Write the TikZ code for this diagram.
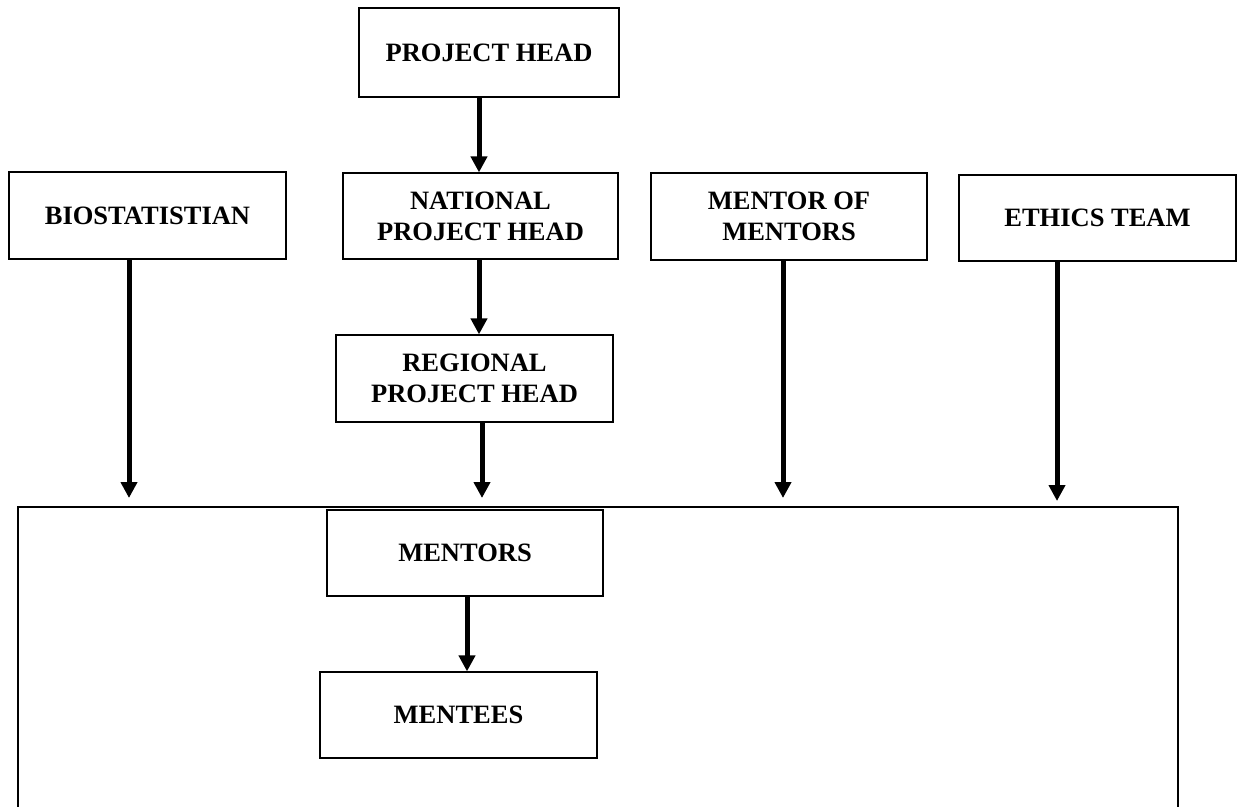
\documentclass[tikz,border=0pt]{standalone}
\usepackage{fontspec}
\setmainfont{Liberation Serif}
\usetikzlibrary{arrows.meta}
\tikzstyle{block} = [rectangle, draw, line width = 1.2pt, minimum width = 277pt, minimum height = 87pt, inner sep = 0pt, align = center, font = \bfseries\fontsize{26.5}{31}\selectfont]
\tikzstyle{line} = [line width = 5pt, -{Triangle[length = 16pt, width = 16pt]}]
\tikzstyle{frame} = [line width = 1.5pt]

\begin{document}
\begin{tikzpicture}[x = 1pt, y = -1pt]
        \useasboundingbox (0,0) rectangle (1244,806);
        \node(PH) [block, minimum width = 260pt, minimum height = 89pt] at (489,52.5) {PROJECT HEAD};
        \node(NPH) [block, minimum width = 275pt, minimum height = 86pt] at (480.5,216) {NATIONAL\\PROJECT HEAD};
        \node(BIO) [block] at (147.5,215.5) {BIOSTATISTIAN};
        \node(MOM) [block, minimum width = 276pt] at (789,216.5) {MENTOR OF\\MENTORS};
        \node(ETH) [block, minimum height = 86pt] at (1097.5,218) {ETHICS TEAM};
        \node(RPH) [block] at (474.5,378.5) {REGIONAL\\PROJECT HEAD};
        \node(MTR) [block, minimum width = 276pt, minimum height = 86pt] at (465,553) {MENTORS};
        \node(MTE) [block, minimum height = 86pt] at (458.5,715) {MENTEES};
        % outer frame, its bottom edge runs off the page
        \coordinate(FL) at (18,812);
        \coordinate(FR) at (1178,812);
        \coordinate(FT) at (0,507);
        \coordinate(stop) at (0,498);
        \draw[frame] (FL) |- (FT -| FR) -- (FR);
        \draw[line] ([xshift = -10pt]PH.south) -- ([xshift = -10pt]PH.south |- NPH.north);
        \draw[line] ([xshift = -1.5pt]NPH.south) -- ([xshift = -1.5pt]NPH.south |- RPH.north);
        \draw[line] ([xshift = 7.5pt]RPH.south) -- ([xshift = 7.5pt]RPH.south |- stop);
        \draw[line] ([xshift = -18.5pt]BIO.south) -- ([xshift = -18.5pt]BIO.south |- stop);
        \draw[line] ([xshift = -6pt]MOM.south) -- ([xshift = -6pt]MOM.south |- stop);
        \draw[line] ([xshift = -40.5pt]ETH.south) -- ([xshift = -40.5pt, yshift = -3pt]ETH.south |- stop);
        \draw[line] ([xshift = 2pt]MTR.south) -- ([xshift = 2pt]MTR.south |- MTE.north);
    \end{tikzpicture}
\end{document}
